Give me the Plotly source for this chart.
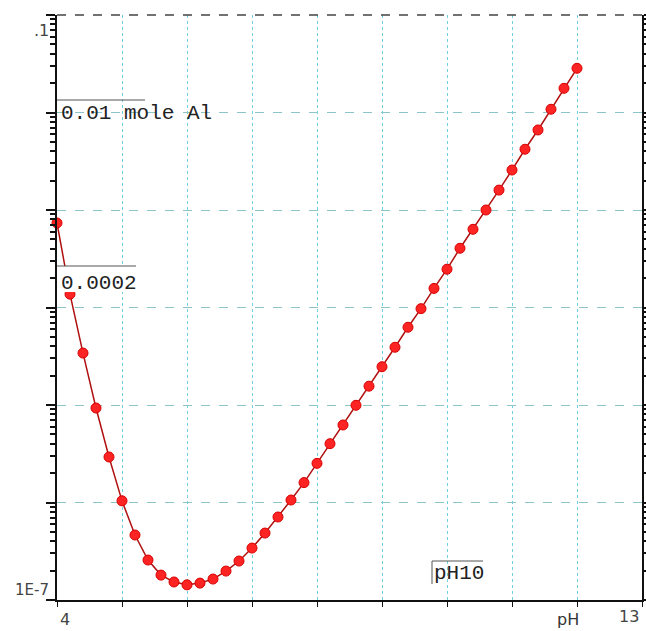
import plotly.graph_objects as go

# ---- data ----
ph = [4.0, 4.2, 4.4, 4.6, 4.8, 5.0, 5.2, 5.4, 5.6, 5.8,
      6.0, 6.2, 6.4, 6.6, 6.8, 7.0, 7.2, 7.4, 7.6, 7.8,
      8.0, 8.2, 8.4, 8.6, 8.8, 9.0, 9.2, 9.4, 9.6, 9.8,
      10.0, 10.2, 10.4, 10.6, 10.8, 11.0, 11.2, 11.4, 11.6, 11.8, 12.0]
conc = [7.36e-4, 1.37e-4, 3.41e-5, 9.31e-6, 2.93e-6, 1.04e-6, 4.64e-7, 2.57e-7, 1.80e-7, 1.53e-7,
        1.43e-7, 1.49e-7, 1.64e-7, 1.98e-7, 2.51e-7, 3.41e-7, 4.86e-7, 7.10e-7, 1.06e-6, 1.60e-6,
        2.52e-6, 4.01e-6, 6.24e-6, 9.93e-6, 1.56e-5, 2.47e-5, 3.91e-5, 6.27e-5, 9.73e-5, 1.57e-4,
        2.47e-4, 4.05e-4, 6.34e-4, 1.00e-3, 1.60e-3, 2.57e-3, 4.20e-3, 6.62e-3, 1.08e-2, 1.77e-2, 2.84e-2]

x_range = [4, 13]
y_range_exp = [-7, -1]
x_label_text = ["4", "pH", "13"]
y_label_text = [".1", "1E-7"]
notes = ["0.01 mole Al", "0.0002", "pH10"]

W, H = 646, 631
L, R, T, B = 57, 4, 15, 31
PW, PH = W - L - R, H - T - B


def px(xp):
    return (xp - L) / PW


def py(yp):
    return (H - B - yp) / PH


fig = go.Figure()
fig.add_trace(go.Scatter(
    x=ph, y=conc, mode="lines+markers",
    line=dict(color="#b01010", width=1.5),
    marker=dict(symbol="circle", size=10, color="#ff2424",
                line=dict(color="#d80000", width=1)),
    showlegend=False, cliponaxis=False,
))

grid_v = "#6fd0e0"
grid_h = "#8cc4c8"
fig.update_xaxes(
    range=x_range, dtick=1, tick0=4, automargin=False,
    showgrid=True, gridcolor=grid_v, griddash="dot", gridwidth=1,
    showline=True, linecolor="#111", linewidth=2,
    ticks="outside", ticklen=5, tickcolor="#111",
    showticklabels=False, zeroline=False,
)
fig.update_yaxes(
    type="log", range=y_range_exp, dtick=1, automargin=False,
    showgrid=True, gridcolor=grid_h, griddash="dash", gridwidth=1,
    showline=True, linecolor="#111", linewidth=2, mirror="ticks",
    ticks="outside", ticklen=9, tickcolor="#111", tickwidth=2,
    minor=dict(ticks="outside", ticklen=5, tickcolor="#111", dtick="D1", showgrid=False),
    showticklabels=False, zeroline=False,
)

# top border (dashed dark)
fig.add_shape(type="line", xref="paper", yref="paper", x0=0, x1=1, y0=1, y1=1,
              line=dict(color="#444", width=1.5, dash="dash"))

tick_font = dict(family="DejaVu Sans", size=16, color="#444")
# x labels
fig.add_annotation(text=x_label_text[0], xref="paper", yref="paper", x=px(65), y=py(619),
                   showarrow=False, font=tick_font, xanchor="center", yanchor="middle")
fig.add_annotation(text=x_label_text[1], xref="paper", yref="paper", x=px(568), y=py(619),
                   showarrow=False, font=dict(family="DejaVu Sans", size=16, color="#333"),
                   xanchor="center", yanchor="middle")
fig.add_annotation(text=x_label_text[2], xref="paper", yref="paper", x=px(629), y=py(617),
                   showarrow=False, font=tick_font, xanchor="center", yanchor="middle")
# y labels
fig.add_annotation(text=y_label_text[0], xref="paper", yref="paper", x=px(51), y=py(30),
                   showarrow=False, font=tick_font, xanchor="right", yanchor="middle")
fig.add_annotation(text=y_label_text[1], xref="paper", yref="paper", x=px(51), y=py(590),
                   showarrow=False, font=dict(family="DejaVu Sans", size=15, color="#444"),
                   xanchor="right", yanchor="middle")

note_font = dict(family="Liberation Mono", size=21, color="#222")
# note boxes
fig.add_shape(type="rect", xref="paper", yref="paper", x0=px(57), x1=px(136), y0=py(292), y1=py(266),
              line=dict(width=0), fillcolor="white", layer="above")
fig.add_shape(type="line", xref="paper", yref="paper", x0=px(57), x1=px(145), y0=py(100), y1=py(100),
              line=dict(color="#555", width=1))
fig.add_shape(type="line", xref="paper", yref="paper", x0=px(57), x1=px(136), y0=py(266), y1=py(266),
              line=dict(color="#555", width=1))
fig.add_shape(type="line", xref="paper", yref="paper", x0=px(432), x1=px(483), y0=py(561), y1=py(561),
              line=dict(color="#555", width=1))
fig.add_shape(type="line", xref="paper", yref="paper", x0=px(432), x1=px(432), y0=py(561), y1=py(584),
              line=dict(color="#555", width=1))

fig.add_annotation(text=notes[0], xref="paper", yref="paper", x=px(59), y=py(114),
                   showarrow=False, font=note_font, xanchor="left", yanchor="middle")
fig.add_annotation(text=notes[1], xref="paper", yref="paper", x=px(59), y=py(283),
                   showarrow=False, font=note_font, xanchor="left", yanchor="middle")
fig.add_annotation(text=notes[2], xref="paper", yref="paper", x=px(432), y=py(573),
                   showarrow=False, font=note_font, xanchor="left", yanchor="middle")

fig.update_layout(
    width=W, height=H, autosize=False,
    margin=dict(l=L, r=R, t=T, b=B, pad=0, autoexpand=False),
    paper_bgcolor="white", plot_bgcolor="white",
)

fig.write_html(
    "out.html",
    config={"displayModeBar": False, "responsive": False},
    post_script="document.body.style.margin='0';document.body.style.overflow='hidden';",
)
